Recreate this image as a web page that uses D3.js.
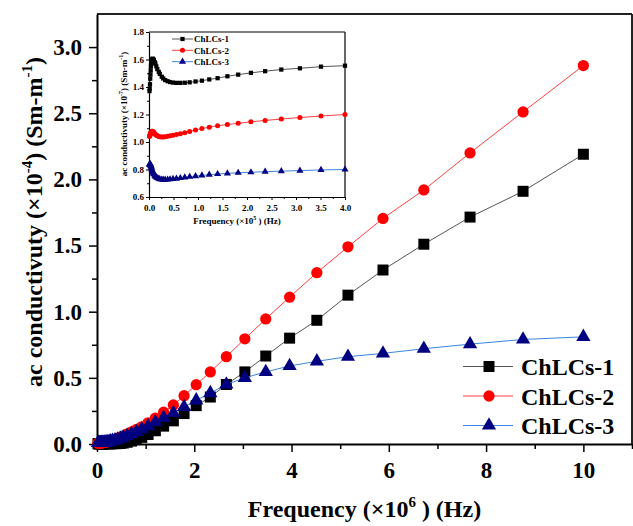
<!DOCTYPE html>
<html>
<head>
<meta charset="utf-8">
<script src="https://cdn.jsdelivr.net/npm/d3@7"></script>
<style>
  body { margin: 0; background: #fff; }
  text { font-family: "Liberation Serif", "Times New Roman", serif; font-weight: bold; }
</style>
</head>
<body>
<div id="chart"></div>
<script>
// main plot data: frequency (x10^6 Hz) and ac conductivity (x10^-4 S/m)
var freq = [0.02, 0.03, 0.04, 0.05, 0.06, 0.07, 0.08, 0.09, 0.10, 0.11, 0.13, 0.15, 0.17, 0.19, 0.22,
            0.25, 0.28, 0.32, 0.37, 0.42, 0.48, 0.54, 0.62, 0.71, 0.81, 0.92, 1.05, 1.20, 1.37, 1.57,
            1.79, 2.04, 2.33, 2.66, 3.04, 3.47, 3.96, 4.52, 5.16, 5.88, 6.72, 7.67, 8.76, 10.0];
var chlcs1 = [0.002, 0.002, 0.002, 0.002, 0.002, 0.002, 0.002, 0.002, 0.002, 0.002, 0.002, 0.002, 0.002, 0.002, 0.002,
              0.002, 0.002, 0.002, 0.003, 0.003, 0.004, 0.007, 0.013, 0.022, 0.034, 0.05, 0.072, 0.10, 0.135, 0.175,
              0.23, 0.29, 0.355, 0.45, 0.545, 0.665, 0.80, 0.935, 1.125, 1.315, 1.51, 1.715, 1.91, 2.19];
var chlcs2 = [0.006, 0.006, 0.006, 0.007, 0.007, 0.007, 0.008, 0.008, 0.009, 0.010, 0.011, 0.012, 0.013, 0.015, 0.017,
              0.020, 0.024, 0.029, 0.035, 0.042, 0.051, 0.062, 0.076, 0.092, 0.11, 0.13, 0.16, 0.196, 0.24, 0.295,
              0.365, 0.448, 0.545, 0.66, 0.795, 0.945, 1.11, 1.295, 1.49, 1.705, 1.92, 2.20, 2.51, 2.86];
var chlcs3 = [0.008, 0.008, 0.008, 0.008, 0.008, 0.008, 0.008, 0.008, 0.009, 0.009, 0.010, 0.011, 0.012, 0.013, 0.015,
              0.017, 0.020, 0.024, 0.029, 0.035, 0.042, 0.051, 0.062, 0.076, 0.092, 0.112, 0.135, 0.165, 0.198, 0.235,
              0.28, 0.33, 0.385, 0.45, 0.50, 0.545, 0.59, 0.625, 0.66, 0.685, 0.72, 0.755, 0.79, 0.81];

// inset data: frequency (x10^5 Hz) and ac conductivity (x10^-7 S/m)
var freqIn = [0.010, 0.015, 0.020, 0.025, 0.030, 0.035, 0.040, 0.045, 0.050, 0.060, 0.070, 0.080, 0.090, 0.10,
              0.12, 0.13, 0.15, 0.17, 0.20, 0.22, 0.26, 0.29, 0.33, 0.38, 0.43, 0.49, 0.56, 0.64, 0.73, 0.83,
              0.95, 1.08, 1.23, 1.40, 1.60, 1.82, 2.08, 2.37, 2.70, 3.08, 3.51, 4.00];
var in1 = [1.37, 1.39, 1.42, 1.46, 1.49, 1.52, 1.55, 1.57, 1.59, 1.60, 1.605, 1.605, 1.60, 1.595,
           1.58, 1.57, 1.55, 1.53, 1.51, 1.495, 1.475, 1.462, 1.45, 1.442, 1.436, 1.432, 1.43, 1.43, 1.431, 1.434,
           1.44, 1.446, 1.455, 1.464, 1.478, 1.49, 1.503, 1.515, 1.527, 1.536, 1.548, 1.555];
var in2 = [1.04, 1.045, 1.05, 1.055, 1.06, 1.065, 1.07, 1.073, 1.075, 1.078, 1.078, 1.076, 1.072, 1.068,
           1.06, 1.055, 1.05, 1.045, 1.04, 1.038, 1.036, 1.036, 1.038, 1.041, 1.045, 1.049, 1.054, 1.06, 1.067, 1.077,
           1.088, 1.098, 1.108, 1.118, 1.127, 1.136, 1.147, 1.157, 1.167, 1.178, 1.189, 1.20];
var in3 = [0.835, 0.84, 0.84, 0.838, 0.835, 0.83, 0.825, 0.82, 0.813, 0.80, 0.79, 0.78, 0.772, 0.765,
           0.755, 0.75, 0.744, 0.738, 0.733, 0.73, 0.727, 0.726, 0.726, 0.727, 0.729, 0.731, 0.734, 0.738, 0.742, 0.747,
           0.752, 0.757, 0.762, 0.767, 0.772, 0.776, 0.78, 0.784, 0.788, 0.792, 0.797, 0.80];

var names = ["ChLCs-1", "ChLCs-2", "ChLCs-3"];
var lineColors = ["#555555", "#ff4040", "#3a86e0"];
var markColors = ["#000000", "#ff0000", "#000080"];
var shapes = [d3.symbolSquare, d3.symbolCircle, d3.symbolTriangle];

var W = 633, H = 526;
var svg = d3.select("#chart").append("svg")
    .attr("width", W)
    .attr("height", H);

// main plot area
var mL = 97, mR = 632, mT = 14, mB = 444;
var x = d3.scaleLinear().domain([0, 11]).range([mL, mR]);
var y = d3.scaleLinear().domain([0, 3.25]).range([mB, mT]);

// frame (top and right)
svg.append("line").attr("x1", mL).attr("x2", mR).attr("y1", mT).attr("y2", mT)
  .attr("stroke", "#222").attr("stroke-width", 2);
svg.append("line").attr("x1", mR).attr("x2", mR).attr("y1", mT).attr("y2", mB)
  .attr("stroke", "#222").attr("stroke-width", 2);

// minor ticks
svg.append("g").attr("transform", "translate(0," + mB + ")")
  .call(d3.axisBottom(x).tickValues([1, 3, 5, 7, 9, 11]).tickSize(5).tickFormat("").tickSizeOuter(0))
  .call(function(g) { g.select(".domain").remove(); g.selectAll("line").attr("stroke-width", 1.5); });
svg.append("g").attr("transform", "translate(" + mL + ",0)")
  .call(d3.axisLeft(y).tickValues([0.25, 0.75, 1.25, 1.75, 2.25, 2.75]).tickSize(5).tickFormat("").tickSizeOuter(0))
  .call(function(g) { g.select(".domain").remove(); g.selectAll("line").attr("stroke-width", 1.5); });

// major axes
var xAxis = svg.append("g").attr("transform", "translate(0," + mB + ")")
  .call(d3.axisBottom(x).tickValues([0, 2, 4, 6, 8, 10]).tickSize(8).tickPadding(10).tickSizeOuter(0));
var yAxis = svg.append("g").attr("transform", "translate(" + mL + ",0)")
  .call(d3.axisLeft(y).tickValues([0, 0.5, 1, 1.5, 2, 2.5, 3]).tickFormat(d3.format(".1f"))
    .tickSize(8).tickPadding(7).tickSizeOuter(0));
[xAxis, yAxis].forEach(function(g) {
  g.select(".domain").attr("stroke", "#000").attr("stroke-width", 2);
  g.selectAll(".tick line").attr("stroke-width", 1.5);
  g.selectAll(".tick text").attr("font-size", 23).attr("fill", "#000")
    .attr("font-family", "Liberation Serif, serif").attr("font-weight", "bold");
});

// main axis titles
var xt = svg.append("text").attr("x", (mL + mR) / 2).attr("y", 517)
  .attr("text-anchor", "middle").attr("font-size", 24);
xt.append("tspan").text("Frequency (×10");
xt.append("tspan").attr("font-size", 15).attr("dy", -10).text("6");
xt.append("tspan").attr("dy", 10).text(" ) (Hz)");

var yt = svg.append("text").attr("transform", "translate(42," + 222 + ") rotate(-90)")
  .attr("text-anchor", "middle").attr("font-size", 24);
yt.append("tspan").text("ac conductivuty (×10");
yt.append("tspan").attr("font-size", 15).attr("dy", -10).text("-4");
yt.append("tspan").attr("dy", 10).text(") (Sm-m");
yt.append("tspan").attr("font-size", 15).attr("dy", -10).text("-1");
yt.append("tspan").attr("dy", 10).text(")");

// main series
var mainSeries = [chlcs1, chlcs2, chlcs3];
var mainSizes = [121, 100, 88];
mainSeries.forEach(function(vals, k) {
  var pts = freq.map(function(f, i) { return [f, vals[i]]; });
  svg.append("path").datum(pts)
    .attr("fill", "none").attr("stroke", lineColors[k]).attr("stroke-width", 1)
    .attr("d", d3.line().x(function(d) { return x(d[0]); }).y(function(d) { return y(d[1]); }));
  svg.append("g").selectAll("path").data(pts).enter().append("path")
    .attr("transform", function(d) { return "translate(" + x(d[0]) + "," + y(d[1]) + ")"; })
    .attr("d", d3.symbol().type(shapes[k]).size(mainSizes[k]))
    .attr("fill", markColors[k]);
});

// main legend
var legY = [366.5, 396, 425.5];
names.forEach(function(n, k) {
  svg.append("line").attr("x1", 463).attr("x2", 513).attr("y1", legY[k]).attr("y2", legY[k])
    .attr("stroke", lineColors[k]).attr("stroke-width", 1.2);
  svg.append("path").attr("transform", "translate(489," + legY[k] + ")")
    .attr("d", d3.symbol().type(shapes[k]).size(mainSizes[k])).attr("fill", markColors[k]);
  svg.append("text").attr("x", 521).attr("y", legY[k] + 8.5).attr("font-size", 24).text(n);
});

// inset
var iL = 149, iR = 345, iT = 32, iB = 197;
var xi = d3.scaleLinear().domain([0, 4]).range([iL, iR]);
var yi = d3.scaleLinear().domain([0.6, 1.8]).range([iB, iT]);

svg.append("rect").attr("x", iL).attr("y", iT).attr("width", iR - iL).attr("height", iB - iT)
  .attr("fill", "#fff");

svg.append("g").attr("transform", "translate(0," + iB + ")")
  .call(d3.axisBottom(xi).tickValues(d3.range(0.25, 4, 0.5)).tickSize(2).tickFormat("").tickSizeOuter(0))
  .call(function(g) { g.select(".domain").remove(); });
svg.append("g").attr("transform", "translate(" + iL + ",0)")
  .call(d3.axisLeft(yi).tickValues([0.7, 0.9, 1.1, 1.3, 1.5, 1.7]).tickSize(2).tickFormat("").tickSizeOuter(0))
  .call(function(g) { g.select(".domain").remove(); });

var xiAxis = svg.append("g").attr("transform", "translate(0," + iB + ")")
  .call(d3.axisBottom(xi).tickValues([0, 0.5, 1, 1.5, 2, 2.5, 3, 3.5, 4]).tickFormat(d3.format(".1f"))
    .tickSize(3).tickPadding(5).tickSizeOuter(0));
var yiAxis = svg.append("g").attr("transform", "translate(" + iL + ",0)")
  .call(d3.axisLeft(yi).tickValues([0.6, 0.8, 1.0, 1.2, 1.4, 1.6, 1.8]).tickFormat(d3.format(".1f"))
    .tickSize(3).tickPadding(2).tickSizeOuter(0));
[xiAxis, yiAxis].forEach(function(g) {
  g.select(".domain").attr("stroke", "#000").attr("stroke-width", 1.2);
  g.selectAll(".tick text").attr("font-size", 9).attr("fill", "#000")
    .attr("font-family", "Liberation Serif, serif").attr("font-weight", "bold");
});
svg.append("line").attr("x1", iL).attr("x2", iR).attr("y1", iT).attr("y2", iT)
  .attr("stroke", "#000").attr("stroke-width", 1.2);
svg.append("line").attr("x1", iR).attr("x2", iR).attr("y1", iT).attr("y2", iB)
  .attr("stroke", "#000").attr("stroke-width", 1.2);

var ixt = svg.append("text").attr("x", 237).attr("y", 224)
  .attr("text-anchor", "middle").attr("font-size", 9);
ixt.append("tspan").text("Frequency (×10");
ixt.append("tspan").attr("font-size", 6).attr("dy", -4).text("5");
ixt.append("tspan").attr("dy", 4).text(" ) (Hz)");

var iyt = svg.append("text").attr("transform", "translate(127,114) rotate(-90)")
  .attr("text-anchor", "middle").attr("font-size", 9);
iyt.append("tspan").text("ac conductivuty (×10");
iyt.append("tspan").attr("font-size", 6).attr("dy", -4).text("-7");
iyt.append("tspan").attr("dy", 4).text(") (Sm-m");
iyt.append("tspan").attr("font-size", 6).attr("dy", -4).text("-1");
iyt.append("tspan").attr("dy", 4).text(")");

var inSeries = [in1, in2, in3];
var inSizes = [18, 20, 22];
inSeries.forEach(function(vals, k) {
  var pts = freqIn.map(function(f, i) { return [f, vals[i]]; });
  svg.append("path").datum(pts)
    .attr("fill", "none").attr("stroke", lineColors[k]).attr("stroke-width", 1)
    .attr("d", d3.line().x(function(d) { return xi(d[0]); }).y(function(d) { return yi(d[1]); }));
  svg.append("g").selectAll("path").data(pts).enter().append("path")
    .attr("transform", function(d) { return "translate(" + xi(d[0]) + "," + yi(d[1]) + ")"; })
    .attr("d", d3.symbol().type(shapes[k]).size(inSizes[k]))
    .attr("fill", markColors[k]);
});

// inset legend
var ilY = [39, 50.3, 61.7];
names.forEach(function(n, k) {
  svg.append("line").attr("x1", 172).attr("x2", 193).attr("y1", ilY[k]).attr("y2", ilY[k])
    .attr("stroke", lineColors[k]).attr("stroke-width", 1);
  svg.append("path").attr("transform", "translate(182.5," + ilY[k] + ")")
    .attr("d", d3.symbol().type(shapes[k]).size(inSizes[k])).attr("fill", markColors[k]);
  svg.append("text").attr("x", 194).attr("y", ilY[k] + 3.2).attr("font-size", 9).text(n);
});
</script>
</body>
</html>
